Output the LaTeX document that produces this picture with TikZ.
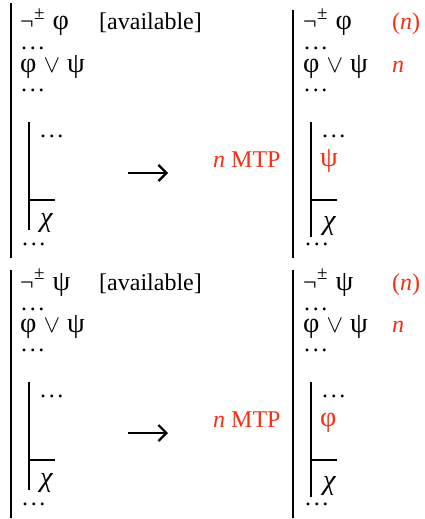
\documentclass[tikz,border=0pt]{standalone}
\usepackage{fontspec}
\setmainfont{Liberation Serif}
\newfontfamily\grk[Scale=1.18]{Liberation Serif}
\usetikzlibrary{arrows.meta}
\definecolor{myred}{RGB}{250,45,20}
\newcommand{\gphi}{{\grk φ}}
\newcommand{\gpsi}{{\grk ψ}}
\newcommand{\gchi}{{\grk\itshape χ}}
\newcommand{\orr}{\ensuremath{\vee}}
\newcommand{\negpm}{¬\kern0.5pt\raisebox{0.42em}{\fontsize{19}{20}\selectfont ±}\kern8pt}
\newcommand{\dotz}{.\kern2.6pt.\kern2.6pt.}
\tikzset{
  txt/.style={anchor=base west, inner sep=0pt, font=\fontsize{24}{28}\selectfont},
  rtxt/.style={txt, text=myred},
  bar/.style={line width=2pt},
  arr/.style={line width=2.4pt, -{Straight Barb[length=8pt,width=16pt,line width=2.2pt]}}
}
\newcommand{\mypanel}[5]{% #1 prefix, #2 y offset, #3 first formula, #4 inner red formula, #5 left line top
  \begin{scope}[yshift=-#2pt]
    % left derivation
    \coordinate (#1Lt) at (11,#5);
    \coordinate (#1Lb) at (11,258);
    \draw[bar] (#1Lt) -- (#1Lb);
    \node[txt] (#1l1) at (20,30) {\negpm #3};
    \node[txt] (#1av) at (99,30) {[available]};
    \node[txt] (#1l2) at (21,50) {\dotz};
    \node[txt] (#1l3) at (20,72) {\gphi\kern7pt\orr\kern7pt\gpsi};
    \node[txt] (#1l4) at (21,91) {\dotz};
    \coordinate (#1It) at (29,122);
    \coordinate (#1Ib) at (29,230);
    \draw[bar] (#1It) -- (#1Ib);
    \node[txt] (#1l5) at (40,137) {\dotz};
    \coordinate (#1Hs) at (29,200);
    \coordinate (#1He) at (55,200);
    \draw[bar] (#1Hs) -- (#1He);
    \node[txt] (#1l6) at (40,226) {\gchi};
    \node[txt] (#1l7) at (22,245) {\dotz};
    % arrow
    \coordinate (#1As) at (128,173);
    \coordinate (#1Ae) at (168,173);
    \draw[arr] (#1As) -- (#1Ae);
    \node[rtxt] (#1mtp) at (213,167) {\textit{n} MTP};
    % right derivation
    \coordinate (#1Rt) at (293,10);
    \coordinate (#1Rb) at (293,258);
    \draw[bar] (#1Rt) -- (#1Rb);
    \node[txt] (#1r1) at (303,30) {\negpm #3};
    \node[rtxt] (#1rn1) at (392,30) {(\textit{n})};
    \node[txt] (#1r2) at (304,50) {\dotz};
    \node[txt] (#1r3) at (303,72) {\gphi\kern7pt\orr\kern7pt\gpsi};
    \node[rtxt] (#1rn2) at (392,72) {\textit{n}};
    \node[txt] (#1r4) at (304,91) {\dotz};
    \coordinate (#1Jt) at (311,122);
    \coordinate (#1Jb) at (311,237);
    \draw[bar] (#1Jt) -- (#1Jb);
    \node[txt] (#1r5) at (322,137) {\dotz};
    \node[rtxt] (#1r6) at (320,166) {#4};
    \coordinate (#1Ks) at (311,200);
    \coordinate (#1Ke) at (337,200);
    \draw[bar] (#1Ks) -- (#1Ke);
    \node[txt] (#1r7) at (323,229) {\gchi};
    \node[txt] (#1r8) at (305,245) {\dotz};
  \end{scope}
}
\begin{document}
\begin{tikzpicture}[x=1pt,y=-1pt]
  \useasboundingbox (0,0) rectangle (424,519);
  \mypanel{a}{0}{\gphi}{\gpsi}{3}
  \mypanel{b}{260}{\gpsi}{\gphi}{10}
\end{tikzpicture}
\end{document}
